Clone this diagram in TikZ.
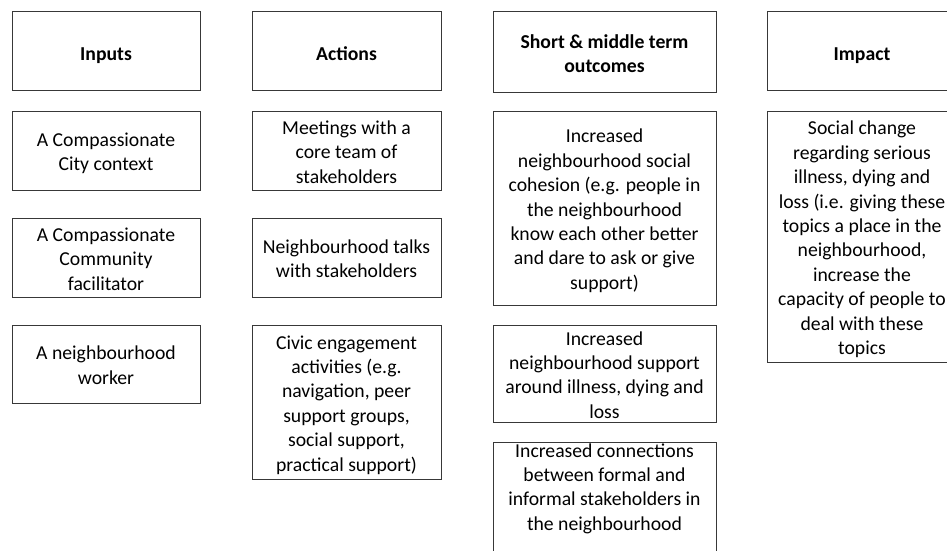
\documentclass[tikz,border=0pt]{standalone}
\usepackage{fontspec}
\setmainfont{Carlito}
\begin{document}
\begin{tikzpicture}[x=1pt,y=-1pt,
  boxline/.style={draw=black!78, line width=1pt},
  frame/.style={boxline, inner sep=0pt},
  txt/.style={inner sep=0pt, align=center,
    font=\fontsize{19.7}{24.4}\selectfont,
    execute at begin node=\strut, execute at end node=\strut},
  intext/.style={txt, yshift=-5pt},
  headtext/.style={intext, font=\fontsize{19.7}{24.4}\selectfont\bfseries}]
\useasboundingbox (0,0) rectangle (947,551);

% column headers
\node[frame, minimum width=188pt, minimum height=78pt] (inHead) at (106,51) {};
\node[frame, minimum width=189pt, minimum height=78pt] (actHead) at (346.5,51) {};
\node[frame, minimum width=223pt, minimum height=80pt] (outHead) at (604.5,52) {};
\node[frame, minimum width=190pt, minimum height=78pt] (impHead) at (862,51) {};
\node[headtext] (inHeadT) at (inHead) {Inputs};
\node[headtext] (actHeadT) at (actHead) {Actions};
\node[headtext] (outHeadT) at (outHead) {Short \& middle term\\outcomes};
\node[headtext] (impHeadT) at (impHead) {Impact};

% inputs
\node[frame, minimum width=188pt, minimum height=79pt] (in1) at (106,150.5) {};
\node[frame, minimum width=188pt, minimum height=79pt] (in2) at (106,257.5) {};
\node[frame, minimum width=188pt, minimum height=78pt] (in3) at (106,364) {};
\node[intext] (in1T) at (in1) {A Compassionate\\City context};
\node[intext] (in2T) at (in2) {A Compassionate\\Community\\facilitator};
\node[intext] (in3T) at (in3) {A neighbourhood\\worker};

% actions
\node[frame, minimum width=189pt, minimum height=79pt] (act1) at (346.5,150.5) {};
\node[frame, minimum width=189pt, minimum height=79pt] (act2) at (346.5,257.5) {};
\node[frame, minimum width=189pt, minimum height=154pt] (act3) at (346.5,402) {};
\node[intext] (act1T) at (act1) {Meetings with a\\core team of\\stakeholders};
\node[intext] (act2T) at (act2) {Neighbourhood talks\\with stakeholders};
\node[intext] (act3T) at (act3) {Civic engagement\\activities (e.g.\\navigation, peer\\support groups,\\social support,\\practical support)};

% outcomes
\node[frame, minimum width=223pt, minimum height=194pt] (out1) at (604.5,208) {};
\node[frame, minimum width=223pt, minimum height=97pt] (out2) at (604.5,373.5) {};
\node[frame, minimum width=223pt, minimum height=198pt] (out3) at (604.5,541) {};
\node[intext] (out1T) at (out1) {Increased\\neighbourhood social\\cohesion (e.g. people in\\the neighbourhood\\know each other better\\and dare to ask or give\\support)};
\node[intext] (out2T) at (out2) {Increased\\neighbourhood support\\around illness, dying and\\loss};
\node[txt] (out3T) at (604.5,490.5) {Increased connections\\between formal and\\informal stakeholders in\\the neighbourhood};

% impact
\node[frame, minimum width=190pt, minimum height=251pt] (imp1) at (862,236.5) {};
\node[intext] (imp1T) at (imp1) {Social change\\regarding serious\\illness, dying and\\loss (i.e. giving these\\topics a place in the\\neighbourhood,\\increase the\\capacity of people to\\deal with these\\topics};
\end{tikzpicture}
\end{document}
